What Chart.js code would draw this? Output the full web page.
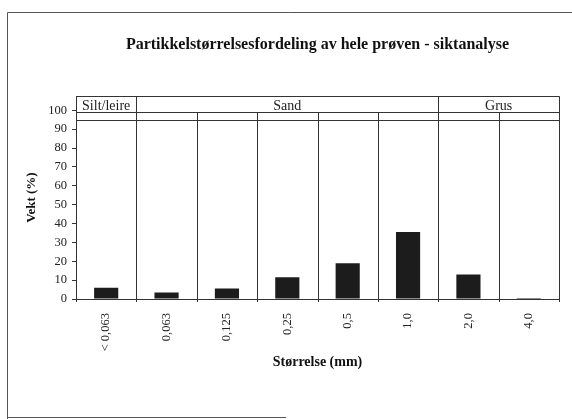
<!DOCTYPE html>
<html>
<head>
<meta charset="utf-8">
<script src="https://cdn.jsdelivr.net/npm/chart.js@4/dist/chart.umd.min.js"></script>
<style>
  html, body { margin: 0; padding: 0; background: #fff; }
  #wrap { width: 572px; height: 419px; }
</style>
</head>
<body>
<div id="wrap"><canvas id="chartSikt"></canvas></div>
<script>
// ---- data ----
const storrelser = ["< 0,063", "0,063", "0,125", "0,25", "0,5", "1,0", "2,0", "4,0"];
const vekt = [6, 3.4, 5.5, 11.5, 19, 35.5, 13, 0.5];
const yTicks = [0, 10, 20, 30, 40, 50, 60, 70, 80, 90, 100];
// header groups: label, first and last category
const gruppeNavn = ["Silt/leire", "Sand", "Grus"];
const gruppeFra = [0, 1, 6];
const gruppeTil = [0, 5, 7];

const FONT = "'Liberation Serif', 'DejaVu Serif', serif";
const LINE = "#333";

// header band + vertical cell lines
const tabellPlugin = {
    id: "tabell",
    beforeDraw(chart) {
        const c = chart.ctx;
        // outer frame of the scanned page
        c.save();
        c.strokeStyle = "#555";
        c.lineWidth = 1;
        c.beginPath();
        c.moveTo(7.5, chart.height);
        c.lineTo(7.5, 12.5);
        c.lineTo(chart.width, 12.5);
        c.moveTo(7.5, chart.height - 1.5);
        c.lineTo(chart.width * 0.5, chart.height - 1.5);
        c.stroke();
        c.restore();
    },
    afterDatasetsDraw(chart) {
        const c = chart.ctx;
        const x = chart.scales.x, y = chart.scales.y;
        const area = chart.chartArea;
        const half = (x.getPixelForValue(1) - x.getPixelForValue(0)) / 2;
        const yTop = area.top, yBand = y.getPixelForValue(99), yLine2 = y.getPixelForValue(95);
        c.save();
        c.strokeStyle = LINE;
        c.lineWidth = 1;
        c.beginPath();
        // horizontal header lines
        [yTop, yBand, yLine2].forEach(py => {
            c.moveTo(area.left, Math.round(py) + 0.5);
            c.lineTo(area.right, Math.round(py) + 0.5);
        });
        // vertical lines between categories
        for (let i = 0; i <= storrelser.length; i++) {
            const px = Math.round(x.getPixelForValue(i) - half) + 0.5;
            const grense = i === 0 || i === storrelser.length || gruppeFra.includes(i);
            c.moveTo(px, grense ? yTop : yBand);
            c.lineTo(px, area.bottom + 3);
        }
        c.stroke();
        // group labels
        c.fillStyle = "#222";
        c.font = "14px " + FONT;
        c.textAlign = "center";
        c.textBaseline = "alphabetic";
        gruppeNavn.forEach((navn, i) => {
            const midt = (x.getPixelForValue(gruppeFra[i]) + x.getPixelForValue(gruppeTil[i])) / 2;
            c.fillText(navn, midt, yBand - 2);
        });
        c.restore();
    }
};

new Chart(document.getElementById("chartSikt"), {
    type: "bar",
    data: {
        labels: storrelser,
        datasets: [{
            label: "Vekt (%)",
            data: vekt,
            backgroundColor: "#1c1c1c",
            borderWidth: 0,
            barPercentage: 0.4,
            categoryPercentage: 1
        }]
    },
    options: {
        responsive: true,
        maintainAspectRatio: false,
        animation: false,
        layout: { padding: { left: 10, right: 13, top: 0, bottom: 48 } },
        plugins: {
            legend: { display: false },
            tooltip: { enabled: false },
            title: {
                display: true,
                fullSize: false,
                text: "Partikkelstørrelsesfordeling av hele prøven - siktanalyse",
                color: "#111",
                font: { family: FONT, size: 16, weight: "bold" },
                padding: { top: 35, bottom: 42 }
            }
        },
        scales: {
            x: {
                grid: { display: false },
                border: { color: LINE, width: 1 },
                ticks: {
                    color: "#222",
                    font: { family: FONT, size: 12.5 },
                    minRotation: 90,
                    maxRotation: 90,
                    padding: 6,
                    autoSkip: false
                },
                title: {
                    display: true,
                    text: "Størrelse (mm)",
                    color: "#111",
                    font: { family: FONT, size: 14, weight: "bold" },
                    padding: { top: 4, bottom: 0 }
                },
                afterFit: s => { s.height = 72; }
            },
            y: {
                min: 0,
                max: 107.5,
                afterBuildTicks: s => { s.ticks = yTicks.map(v => ({ value: v })); },
                grid: { drawOnChartArea: false, tickLength: 4, color: LINE },
                border: { color: LINE, width: 1 },
                ticks: {
                    color: "#222",
                    font: { family: FONT, size: 12.5 },
                    padding: 5
                },
                title: {
                    display: true,
                    text: "Vekt (%)",
                    color: "#111",
                    font: { family: FONT, size: 13, weight: "bold" },
                    padding: { top: 14, bottom: 0 }
                },
                afterFit: s => { s.width = 66; }
            }
        }
    },
    plugins: [tabellPlugin]
});
</script>
</body>
</html>
